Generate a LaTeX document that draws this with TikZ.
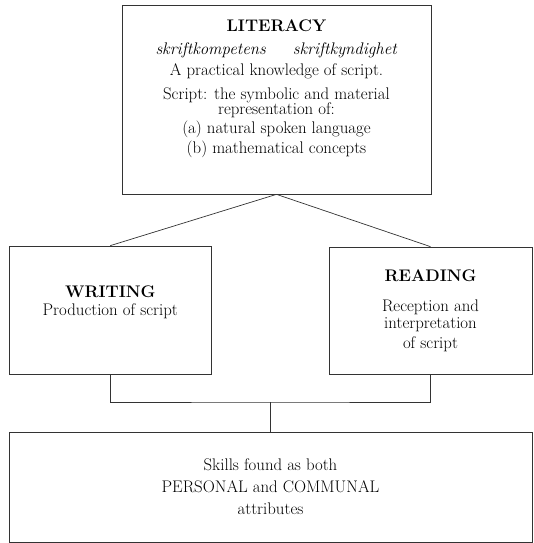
\documentclass[tikz,border=0pt]{standalone}
\usepackage{tikz}
\usetikzlibrary{positioning}

\begin{document}
\begin{tikzpicture}[x=1pt,y=1pt,
	box/.style={draw=black!80, line width=0.7pt, align=center, inner sep=0pt,
		font=\fontsize{16.8}{14}\selectfont},
	link/.style={draw=black!80, line width=0.7pt}]
	\useasboundingbox (0,0) rectangle (533,-543);

	\node[box, minimum width=309, minimum height=189] (lit) at (276.5,-99.5)
		{\textbf{LITERACY}\\[9pt]
		 \textit{skriftkompetens}\hspace{1.6em}\textit{skriftkyndighet}\\[4pt]
		 A practical knowledge of script.\\[8pt]
		 Script: the symbolic and material\\[-1pt]
		 representation of:\\[2pt]
		 (a) natural spoken language\\[2pt]
		 (b) mathematical concepts\\[12pt]};
	\node[box, minimum width=201.5, minimum height=128] (wri) at (110.25,-310)
		{\textbf{WRITING}\\[4pt] Production of script\\[4pt]};
	\node[box, minimum width=203, minimum height=127] (rea) at (430.5,-310.5)
		{\textbf{READING}\\[16pt] Reception and\\[2pt] interpretation\\[4pt] of script};
	\node[box, minimum width=523, minimum height=110] (skl) at (270.5,-487)
		{Skills found as both\\[8pt] PERSONAL and COMMUNAL\\[8pt] attributes};

	\coordinate (join) at (270.5,-402);

	\draw[link] (lit.south) -- (wri.north);
	\draw[link] (lit.south) -- (rea.north);
	\draw[link] (wri.south) |- (join) -| (rea.south);
	\draw[link] (join) -- (skl.north);
\end{tikzpicture}
\end{document}
